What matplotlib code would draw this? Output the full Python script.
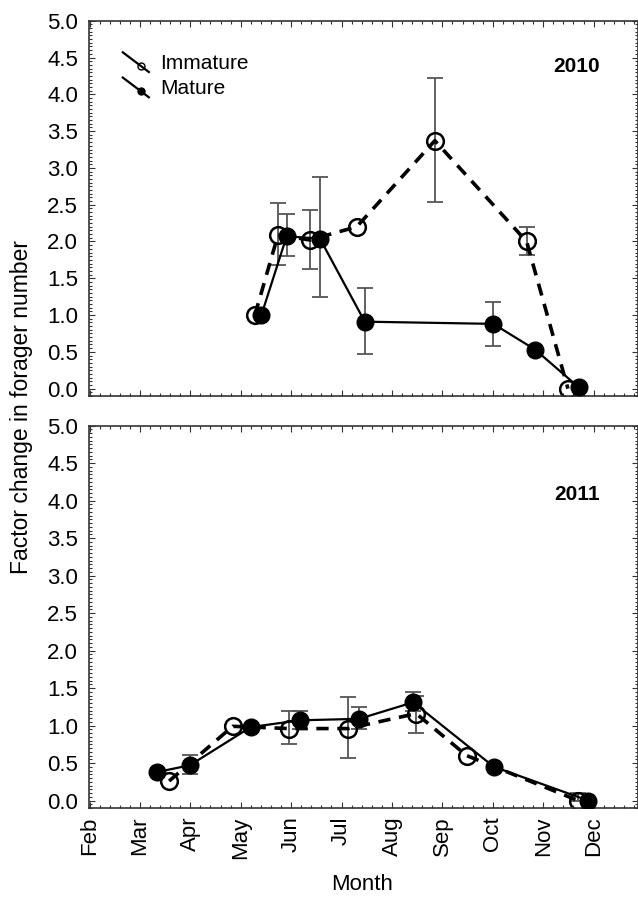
import numpy as np
import matplotlib
matplotlib.use("Agg")
import matplotlib.pyplot as plt
from matplotlib.lines import Line2D
from matplotlib.legend_handler import HandlerBase
from matplotlib.ticker import MultipleLocator

plt.rcParams['font.family'] = ['Liberation Sans', 'DejaVu Sans']

nan = np.nan

# month axis: Feb = 2 ... Dec = 12
month_pos = [2, 3, 4, 5, 6, 7, 8, 9, 10, 11, 12]
month_names = ['Feb', 'Mar', 'Apr', 'May', 'Jun', 'Jul', 'Aug', 'Sep', 'Oct', 'Nov', 'Dec']

# 2010
imm10_x = [5.28, 5.74, 6.37, 7.30, 8.85, 10.67, 11.49]
imm10_y = [1.00, 2.09, 2.02, 2.20, 3.37, 2.00, 0.00]
imm10_lo = [nan, 1.68, 1.62, nan, 2.54, 1.82, nan]
imm10_hi = [nan, 2.52, 2.43, nan, 4.22, 2.20, nan]

mat10_x = [5.41, 5.91, 6.57, 7.46, 10.01, 10.84, 11.70]
mat10_y = [1.00, 2.07, 2.04, 0.91, 0.88, 0.53, 0.02]
mat10_lo = [nan, 1.80, 1.25, 0.47, 0.58, nan, nan]
mat10_hi = [nan, 2.37, 2.88, 1.37, 1.18, nan, nan]

# 2011
imm11_x = [3.58, 4.84, 5.96, 7.13, 8.48, 9.48, 11.69]
imm11_y = [0.26, 0.99, 0.96, 0.96, 1.16, 0.60, 0.00]
imm11_lo = [nan, nan, 0.75, 0.57, 0.90, nan, 0.00]
imm11_hi = [nan, nan, 1.19, 1.38, 1.40, nan, 0.10]

mat11_x = [3.34, 3.99, 5.20, 6.17, 7.35, 8.42, 10.02, 11.89]
mat11_y = [0.38, 0.47, 0.98, 1.07, 1.09, 1.31, 0.45, 0.00]
mat11_lo = [nan, 0.36, nan, 0.95, 0.95, 1.20, nan, nan]
mat11_hi = [nan, 0.61, nan, 1.20, 1.25, 1.45, nan, nan]


class DiagHandler(HandlerBase):
    # statistica style legend: slanted line with small marker
    def create_artists(self, legend, orig_handle, xdescent, ydescent,
                       width, height, fontsize, trans):
        x0, x1 = -xdescent, -xdescent + width
        y0, y1 = -ydescent + height * 1.15, -ydescent - height * 0.2
        line = Line2D([x0, x1], [y0, y1], color='black', lw=1.6)
        t = 0.68
        mk = Line2D([x0 + (x1 - x0) * t], [y0 + (y1 - y0) * t], marker='o',
                    ms=5, mfc=orig_handle.get_markerfacecolor(),
                    mec='black', mew=1.0, ls='none')
        line.set_transform(trans)
        mk.set_transform(trans)
        return [line, mk]


def errbars(ax, x, y, lo, hi):
    x = np.array(x)
    y = np.array(y)
    lo = np.array(lo)
    hi = np.array(hi)
    ok = ~np.isnan(lo)
    ax.errorbar(x[ok], y[ok], yerr=[y[ok] - lo[ok], hi[ok] - y[ok]], fmt='none',
                ecolor='#555555', elinewidth=1.3, capsize=6, capthick=1.3, zorder=1)


def draw_panel(ax, ix, iy, ilo, ihi, mx, my, mlo, mhi):
    errbars(ax, ix, iy, ilo, ihi)
    errbars(ax, mx, my, mlo, mhi)
    ax.plot(ix, iy, color='black', ls=(0, (3.4, 2.4)), lw=2.6, marker='o', ms=12,
            mfc='none', mec='black', mew=1.8, zorder=2, label='Immature')
    ax.plot(mx, my, color='black', ls='-', lw=1.6, marker='o', ms=12,
            mfc='black', mec='black', zorder=3, label='Mature')
    ax.set_xlim(1.99, 12.88)
    ax.set_ylim(-0.1, 5.0)
    ax.set_yticks(np.arange(0, 5.01, 0.5))
    ax.set_yticklabels(['%.1f' % v for v in np.arange(0, 5.01, 0.5)])
    ax.set_xticks(month_pos)
    ax.xaxis.set_minor_locator(MultipleLocator(0.2))
    ax.yaxis.set_minor_locator(MultipleLocator(0.05))
    ax.tick_params(which='both', direction='in', top=True, right=True, width=0.8,
                   color='#333333')
    ax.tick_params(which='major', length=4, labelsize=16, pad=8)
    ax.tick_params(which='minor', length=2)
    for s in ax.spines.values():
        s.set_linewidth(1.2)
        s.set_color('#333333')


fig = plt.figure(figsize=(6.38, 9.02), dpi=100)
ax1 = fig.add_axes([0.1395, 0.561, 0.8605, 0.416])
ax2 = fig.add_axes([0.1395, 0.1042, 0.8605, 0.4238])

draw_panel(ax1, imm10_x, imm10_y, imm10_lo, imm10_hi, mat10_x, mat10_y, mat10_lo, mat10_hi)
draw_panel(ax2, imm11_x, imm11_y, imm11_lo, imm11_hi, mat11_x, mat11_y, mat11_lo, mat11_hi)

ax1.set_xticklabels([])
ax2.set_xticklabels(month_names, rotation=90)
ax2.tick_params(axis='x', which='major', pad=6)

h, l = ax1.get_legend_handles_labels()
ax1.legend(h, l, loc='upper left', frameon=False, fontsize=15,
           handler_map={Line2D: DiagHandler()}, handlelength=1.25,
           handletextpad=0.55, labelspacing=0.3, borderaxespad=0.3,
           bbox_to_anchor=(0.035, 0.95))

ax1.text(0.889, 0.877, '2010', transform=ax1.transAxes, fontsize=15,
         fontweight='bold', ha='center', va='center')
ax2.text(0.889, 0.819, '2011', transform=ax2.transAxes, fontsize=15,
         fontweight='bold', ha='center', va='center')

fig.text(0.033, 0.549, 'Factor change in forager number', rotation=90,
         ha='center', va='center', fontsize=16.5)
fig.text(362 / 638, 1 - 885 / 902, 'Month', ha='center', va='center', fontsize=16)

fig.savefig('out.png', dpi=100)
